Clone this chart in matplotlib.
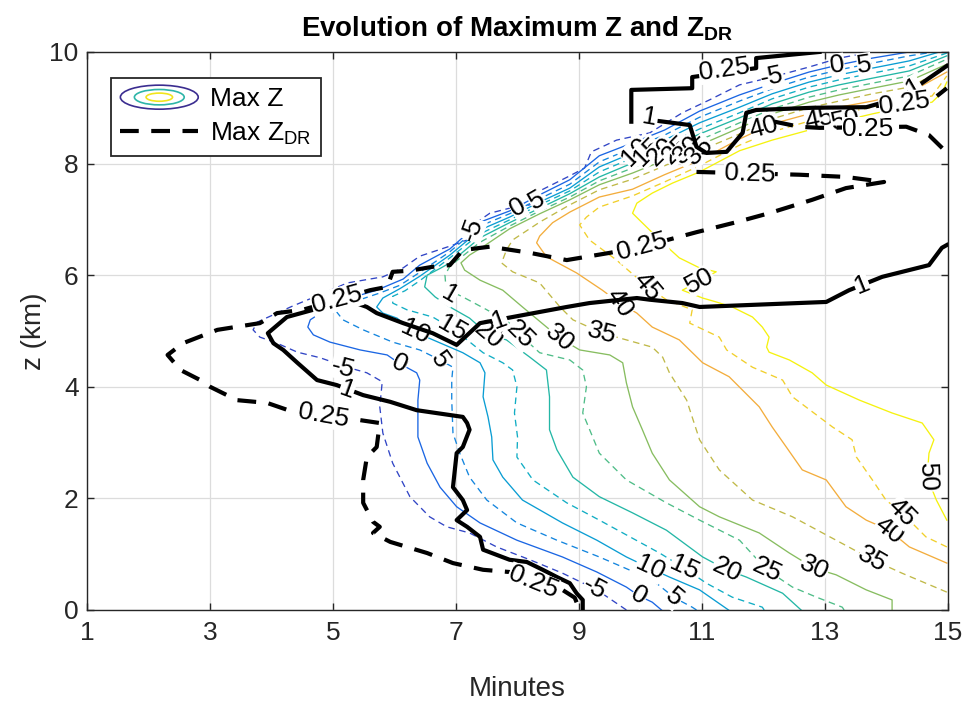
import numpy as np
import matplotlib
matplotlib.use('Agg')
import matplotlib.pyplot as plt
from matplotlib.legend_handler import HandlerBase
from matplotlib.patches import Ellipse, Patch
from matplotlib.lines import Line2D

plt.rcParams['font.family'] = 'Liberation Sans'
plt.rcParams['mathtext.fontset'] = 'custom'
plt.rcParams['mathtext.rm'] = 'Liberation Sans'
plt.rcParams['mathtext.bf'] = 'Liberation Sans:bold'

# ---- Max Z contours (minutes, km), one path per level ----
z_levels = [-5, 0, 5, 10, 15, 20, 25, 30, 35, 40, 45, 50]
z_colors = ['#3145c5', '#1b66e3', '#1385de', '#0a9dd3', '#11adc4', '#24b7a6',
            '#4fbd88', '#87bd60', '#c0b948', '#f3ad3d', '#f1cf2b', '#f5f20f']

z_m5 = [(9.77, 0.00), (9.29, 0.36), (8.73, 0.66), (8.20, 0.90), (7.66, 1.13), (7.22, 1.38),
        (6.85, 1.49), (6.57, 1.67), (6.25, 2.03), (5.97, 2.63), (5.81, 3.17), (5.76, 3.64),
        (5.80, 4.09), (5.55, 4.25), (5.23, 4.35), (4.79, 4.52), (4.42, 4.62), (4.09, 4.78),
        (3.81, 4.89), (3.70, 5.02), (3.77, 5.16), (4.35, 5.45), (4.79, 5.65), (5.23, 5.86),
        (5.81, 5.97), (6.14, 6.13), (6.41, 6.34), (6.90, 6.52), (7.18, 6.63), (7.34, 6.95),
        (7.55, 7.11), (7.87, 7.20), (8.20, 7.26), (8.36, 7.51), (8.85, 7.78), (9.09, 7.92),
        (9.20, 8.21), (9.61, 8.42), (10.15, 8.55), (10.68, 8.91), (11.12, 9.14), (11.61, 9.41),
        (12.14, 9.55), (12.74, 9.73), (13.23, 9.89), (13.77, 10.00)]
z_0 = [(10.34, 0.00), (10.19, 0.14), (9.98, 0.25), (9.77, 0.41), (9.29, 0.68), (8.73, 0.95),
       (7.99, 1.25), (7.39, 1.56), (7.01, 1.85), (6.74, 2.20), (6.53, 2.63), (6.38, 3.10),
       (6.38, 3.76), (6.41, 4.12), (6.36, 4.25), (6.09, 4.41), (5.88, 4.57), (5.44, 4.66),
       (4.95, 4.80), (4.68, 4.93), (4.59, 5.07), (4.63, 5.20), (4.95, 5.43), (5.28, 5.59),
       (5.71, 5.73), (6.14, 5.93), (6.41, 6.18), (6.90, 6.47), (7.39, 6.95), (7.87, 7.15),
       (8.36, 7.44), (8.85, 7.71), (9.33, 8.14), (9.87, 8.37), (10.39, 8.60), (10.96, 8.94),
       (11.61, 9.23), (12.14, 9.43), (12.74, 9.64), (13.23, 9.77), (13.77, 9.89), (14.37, 10.00)]
z_5 = [(10.91, 0.00), (10.84, 0.05), (10.55, 0.22), (10.19, 0.54), (9.33, 0.95), (8.64, 1.25),
       (7.99, 1.56), (7.50, 1.97), (7.22, 2.38), (7.06, 2.81), (6.95, 3.17), (6.93, 3.76),
       (6.93, 4.12), (6.95, 4.35), (6.74, 4.48), (6.41, 4.66), (5.97, 4.80), (5.49, 5.02),
       (5.16, 5.20), (5.06, 5.34), (5.23, 5.47), (5.49, 5.58), (5.76, 5.68), (6.09, 5.82),
       (6.41, 6.05), (6.90, 6.42), (7.39, 6.88), (7.87, 7.10), (8.36, 7.37), (8.85, 7.63),
       (9.33, 8.03), (9.87, 8.28), (10.39, 8.51), (10.96, 8.83), (11.61, 9.12), (12.14, 9.34),
       (12.74, 9.55), (13.23, 9.68), (13.77, 9.80), (14.37, 9.93), (14.77, 10.00)]
z_10 = [(11.43, 0.00), (10.96, 0.36), (10.47, 0.59), (10.15, 0.75), (9.77, 0.95), (9.29, 1.25),
        (8.73, 1.56), (8.08, 1.97), (7.76, 2.38), (7.60, 2.69), (7.58, 3.10), (7.52, 3.46),
        (7.44, 3.82), (7.47, 4.25), (7.39, 4.43), (7.11, 4.61), (6.33, 4.98), (6.04, 5.23),
        (5.81, 5.32), (5.71, 5.43), (5.81, 5.59), (6.09, 5.76), (6.41, 5.98), (6.90, 6.36),
        (7.39, 6.81), (7.87, 7.04), (8.36, 7.31), (8.85, 7.56), (9.33, 7.94), (9.87, 8.19),
        (10.39, 8.42), (10.96, 8.73), (11.61, 9.01), (12.14, 9.25), (12.74, 9.46), (13.23, 9.59),
        (13.77, 9.71), (14.37, 9.84), (14.86, 10.00)]
z_15 = [(12.01, 0.00), (11.98, 0.05), (11.49, 0.23), (11.07, 0.48), (10.71, 0.75), (10.31, 1.02),
        (9.33, 1.61), (8.80, 1.92), (8.25, 2.33), (7.99, 2.74), (8.00, 3.10), (7.95, 3.53),
        (7.99, 4.00), (7.92, 4.30), (7.76, 4.43), (7.44, 4.61), (7.18, 4.84), (6.93, 5.05),
        (6.62, 5.25), (6.20, 5.38), (5.97, 5.50), (5.97, 5.62), (6.17, 5.72), (6.41, 5.90),
        (6.90, 6.31), (7.39, 6.74), (7.87, 6.99), (8.36, 7.26), (8.85, 7.51), (9.33, 7.85),
        (9.87, 8.10), (10.39, 8.33), (10.96, 8.62), (11.61, 8.91), (12.14, 9.16), (12.74, 9.37),
        (13.23, 9.50), (13.77, 9.62), (14.37, 9.75), (14.98, 9.98)]
z_20 = [(12.61, 0.00), (12.31, 0.30), (11.72, 0.59), (11.40, 0.72), (11.01, 0.95), (10.42, 1.43),
        (9.87, 1.74), (9.33, 2.03), (8.90, 2.38), (8.64, 2.87), (8.52, 3.23), (8.52, 3.82),
        (8.47, 4.30), (8.20, 4.53), (7.82, 4.84), (7.53, 4.93), (7.22, 5.23), (6.90, 5.43),
        (6.66, 5.61), (6.49, 5.79), (6.53, 6.00), (6.74, 6.12), (6.90, 6.22), (7.39, 6.67),
        (7.87, 6.94), (8.36, 7.20), (8.85, 7.46), (9.33, 7.76), (9.87, 8.01), (10.39, 8.24),
        (10.96, 8.53), (11.61, 8.82), (12.14, 9.07), (12.74, 9.28), (13.23, 9.41), (13.77, 9.53),
        (14.37, 9.66), (14.98, 9.93)]
z_25 = [(13.31, 0.00), (13.28, 0.05), (12.86, 0.23), (12.47, 0.41), (12.05, 0.72), (11.61, 1.25),
        (10.96, 1.61), (10.42, 1.92), (9.77, 2.33), (9.33, 2.81), (9.06, 3.53), (9.12, 4.00),
        (9.06, 4.30), (8.85, 4.48), (8.36, 4.61), (8.04, 4.93), (7.87, 5.14), (7.50, 5.38),
        (7.11, 5.61), (6.90, 5.72), (6.83, 5.86), (6.82, 6.00), (6.90, 6.16), (7.39, 6.59),
        (7.87, 6.88), (8.36, 7.15), (8.85, 7.40), (9.33, 7.69), (9.87, 7.92), (10.39, 8.15),
        (10.96, 8.42), (11.61, 8.73), (12.14, 8.98), (12.74, 9.19), (13.23, 9.32), (13.77, 9.44),
        (14.37, 9.57), (14.98, 9.87)]
z_30 = [(14.09, 0.00), (14.09, 0.18), (13.67, 0.36), (13.18, 0.63), (12.82, 0.75), (12.42, 1.02),
        (11.93, 1.38), (11.28, 1.67), (10.96, 1.85), (10.47, 2.33), (10.19, 2.81), (10.03, 3.23),
        (9.87, 3.64), (9.77, 4.07), (9.71, 4.43), (9.50, 4.57), (9.01, 4.66), (8.69, 4.87),
        (8.08, 5.43), (7.76, 5.73), (7.39, 5.91), (7.14, 6.09), (7.08, 6.22), (7.22, 6.36),
        (7.44, 6.51), (7.87, 6.83), (8.36, 7.10), (8.85, 7.35), (9.33, 7.62), (9.87, 7.83),
        (10.39, 8.06), (10.96, 8.33), (11.61, 8.64), (12.14, 8.89), (12.74, 9.10), (13.23, 9.23),
        (13.77, 9.35), (14.37, 9.48), (14.98, 9.78)]
z_35 = [(14.98, 0.32), (14.25, 0.66), (13.77, 0.90), (13.18, 1.25), (12.47, 1.67), (11.82, 1.97),
        (11.28, 2.51), (10.96, 3.05), (10.75, 3.76), (10.47, 4.25), (10.36, 4.53), (10.19, 4.71),
        (9.77, 4.84), (9.38, 4.96), (8.90, 5.20), (8.69, 5.43), (8.36, 5.86), (7.92, 6.06),
        (7.74, 6.22), (7.82, 6.45), (7.92, 6.63), (8.36, 6.95), (8.85, 7.26), (9.33, 7.53),
        (9.87, 7.72), (10.39, 7.96), (10.96, 8.23), (11.61, 8.53), (12.14, 8.80), (12.74, 9.00),
        (13.23, 9.12), (13.77, 9.25), (14.37, 9.37), (14.98, 9.71)]
z_40 = [(14.98, 0.84), (14.37, 1.13), (14.04, 1.43), (13.67, 1.61), (13.34, 1.85), (13.02, 2.33),
        (12.63, 2.51), (12.37, 2.92), (12.14, 3.28), (11.93, 3.64), (11.44, 4.18), (11.01, 4.43),
        (10.63, 4.84), (10.19, 5.07), (9.94, 5.32), (9.66, 5.50), (9.38, 5.73), (8.96, 6.04),
        (8.47, 6.33), (8.31, 6.58), (8.36, 6.70), (8.57, 6.94), (8.85, 7.13), (9.33, 7.40),
        (9.87, 7.54), (10.39, 7.80), (10.96, 8.06), (11.61, 8.44), (12.14, 8.71), (12.74, 8.89),
        (13.23, 9.01), (13.77, 9.12), (14.37, 9.27), (14.98, 9.64)]
z_45 = [(14.98, 1.13), (14.64, 1.31), (14.25, 1.74), (13.99, 1.97), (13.77, 2.33), (13.51, 2.74),
        (13.44, 3.05), (13.12, 3.28), (12.47, 3.82), (12.31, 4.12), (11.82, 4.35), (11.40, 4.66),
        (11.28, 4.89), (10.80, 5.14), (10.84, 5.38), (10.42, 5.56), (10.11, 5.79), (9.61, 6.27),
        (9.17, 6.63), (9.01, 6.90), (9.12, 7.04), (9.33, 7.22), (9.87, 7.42), (10.39, 7.67),
        (10.96, 7.96), (11.61, 8.33), (12.14, 8.57), (12.74, 8.76), (13.23, 8.89), (13.77, 9.01),
        (14.37, 9.16), (14.74, 9.21), (14.98, 9.57)]
z_50 = [(14.98, 1.61), (14.81, 1.97), (14.66, 2.38), (14.69, 2.81), (14.77, 3.05), (14.58, 3.35),
        (14.09, 3.53), (13.56, 3.76), (13.02, 4.03), (12.79, 4.25), (12.42, 4.48), (12.09, 4.62),
        (12.05, 4.71), (12.09, 4.89), (11.98, 5.07), (11.82, 5.25), (11.49, 5.43), (11.23, 5.52),
        (11.01, 5.59), (10.68, 5.73), (11.23, 6.06), (10.96, 6.13), (10.63, 6.31), (10.36, 6.58),
        (9.98, 6.99), (9.87, 7.11), (9.94, 7.29), (10.19, 7.47), (10.52, 7.65), (10.96, 7.85),
        (11.61, 8.23), (12.14, 8.42), (12.74, 8.60), (13.23, 8.75), (13.77, 8.89), (14.37, 9.03),
        (14.74, 9.10), (14.90, 9.27), (14.98, 9.46)]
z_paths = [z_m5, z_0, z_5, z_10, z_15, z_20, z_25, z_30, z_35, z_40, z_45, z_50]

# contour labels: (minutes, km, text, rotation)
z_labels = [
    (9.25, 0.38, '-5', -28), (9.98, 0.25, '0', -30), (10.55, 0.22, '5', -40),
    (10.15, 0.75, '10', -25), (10.71, 0.75, '15', -25), (11.40, 0.72, '20', -25),
    (12.05, 0.72, '25', -25), (12.82, 0.75, '30', -25), (13.77, 0.90, '35', -30),
    (14.04, 1.43, '40', -38), (14.25, 1.74, '45', -45), (14.66, 2.38, '50', -88),
    (5.16, 4.34, '-5', -15), (6.09, 4.41, '0', -25), (6.74, 4.48, '5', -55),
    (6.33, 4.98, '10', -25), (6.93, 5.05, '15', -30), (7.53, 4.93, '20', -40),
    (8.04, 4.93, '25', -45), (8.69, 4.87, '30', -40), (9.38, 4.96, '35', -15),
    (9.66, 5.50, '40', -55), (10.11, 5.79, '45', -50), (10.96, 5.90, '50', 28),
    (7.27, 6.82, '-5', 70), (8.00, 7.22, '0', 30), (8.31, 7.34, '5', 30),
    (9.92, 8.21, '10', 45), (10.11, 8.21, '15', 45), (10.34, 8.22, '20', 45),
    (10.57, 8.24, '25', 45), (10.76, 8.24, '30', 45), (10.96, 8.23, '35', 45),
    (12.01, 8.65, '40', 15), (12.91, 8.80, '45', 12), (13.33, 8.78, '50', 12),
    (12.14, 9.55, '-5', 12), (13.20, 9.76, '0', 8), (13.64, 9.77, '5', 8),
]

# ---- Max ZDR contours ----
zdr1_main = [(14.98, 6.54), (14.90, 6.49), (14.69, 6.18), (13.93, 5.97), (13.39, 5.73),
             (13.02, 5.52), (10.96, 5.43), (10.68, 5.50), (10.15, 5.56), (9.94, 5.59),
             (9.17, 5.50), (8.80, 5.43), (7.92, 5.25), (7.39, 5.14), (7.01, 4.75), (6.62, 4.96),
             (6.14, 5.14), (5.71, 5.32), (5.55, 5.43), (5.32, 5.52), (5.00, 5.47), (4.68, 5.38),
             (4.25, 5.25), (3.94, 4.96), (4.03, 4.78), (4.19, 4.66), (4.42, 4.43), (4.74, 4.12),
             (5.06, 4.03), (5.49, 3.85), (5.93, 3.73), (6.36, 3.58), (7.11, 3.46), (7.18, 3.35),
             (7.22, 3.23), (7.11, 2.92), (7.01, 2.81), (6.95, 2.20), (7.11, 1.97), (7.18, 1.79),
             (7.01, 1.61), (7.18, 1.49), (7.39, 1.31), (7.44, 1.08), (7.87, 0.90), (8.15, 0.86),
             (8.41, 0.72), (8.64, 0.59), (8.85, 0.48), (8.96, 0.30), (9.06, 0.18), (9.06, 0.00)]
zdr1_top = [(10.31, 8.76), (10.80, 8.69), (10.91, 8.30), (11.07, 8.19), (11.40, 8.21),
            (11.66, 8.55), (11.72, 8.91), (11.88, 8.96), (12.81, 9.00), (13.67, 9.01),
            (14.25, 9.19), (14.69, 9.53), (14.98, 9.75)]
zdr025_top = [(9.85, 8.75), (9.85, 9.32), (10.84, 9.35), (10.84, 9.55), (11.88, 9.71),
              (11.88, 9.89), (12.91, 10.00)]
zdr025_loop = [(10.91, 7.85), (12.58, 7.80), (13.34, 7.76), (13.96, 7.67), (13.34, 7.56),
               (12.79, 7.35), (12.09, 7.11), (11.56, 6.95), (10.91, 6.77), (10.03, 6.51),
               (9.50, 6.40), (8.80, 6.27), (8.20, 6.40), (7.55, 6.51), (7.11, 6.45), (6.90, 6.18),
               (6.62, 6.15), (6.25, 6.08), (5.97, 6.06), (5.88, 5.79), (5.60, 5.73), (4.51, 5.38),
               (4.09, 5.32), (3.81, 5.14), (3.12, 5.02), (2.56, 4.78), (2.31, 4.57), (2.52, 4.30),
               (2.84, 4.12), (3.00, 4.00), (3.44, 3.76), (3.93, 3.71), (4.35, 3.55), (5.39, 3.41),
               (5.76, 3.35), (5.71, 2.92), (5.55, 2.74), (5.49, 2.33), (5.49, 1.92), (5.65, 1.58),
               (5.76, 1.49), (5.65, 1.38), (5.93, 1.22), (6.53, 1.02), (6.95, 0.84), (7.44, 0.72),
               (7.87, 0.68), (8.20, 0.45), (8.73, 0.36), (8.93, 0.22), (9.01, 0.00)]
zdr025_mid = [(12.18, 8.75), (12.58, 8.66), (12.91, 8.64), (14.32, 8.66), (14.69, 8.51),
              (14.94, 8.24), (14.98, 8.10)]
zdr025_edge = [(13.83, 9.03), (14.74, 9.14), (14.98, 9.35)]

zdr_solid = [zdr1_main, zdr1_top, zdr025_top]
zdr_dashed = [zdr025_loop, zdr025_mid, zdr025_edge]

zdr_labels = [
    (13.60, 5.82, '1', 22), (7.71, 5.20, '1', 20), (5.23, 3.95, '1', -20),
    (6.90, 5.66, '1', -30), (10.15, 8.82, '1', -10), (14.45, 9.37, '1', 30),
    (11.36, 9.68, '0.25', 8), (11.77, 7.82, '0.25', -2), (10.03, 6.51, '0.25', 15),
    (5.06, 5.56, '0.25', 15), (4.84, 3.48, '0.25', -10), (8.25, 0.50, '0.25', -22),
    (13.69, 8.62, '0.25', 0), (14.29, 9.08, '0.25', 8),
]


class ContourIcon(HandlerBase):
    # three nested rings, like a contour swatch
    def create_artists(self, legend, orig_handle, xdescent, ydescent,
                       width, height, fontsize, trans):
        cx = width / 2 - xdescent
        cy = height / 2 - ydescent
        rings = []
        for s, c in zip([1.0, 0.64, 0.34], ['#3b2d90', '#2eb5a8', '#f1e51d']):
            rings.append(Ellipse((cx, cy), width * s, height * 1.3 * s, fill=False,
                                 edgecolor=c, lw=1.2, transform=trans))
        return rings


fig = plt.figure(figsize=(9.67, 7.02), dpi=100)
ax = fig.add_axes([0.0900, 0.1311, 0.8904, 0.7949])

for lev, pts, col in zip(z_levels, z_paths, z_colors):
    pts = np.array(pts)
    ls = '-' if lev % 10 == 0 else (0, (5, 3.5))
    ax.plot(pts[:, 0], pts[:, 1], color=col, lw=0.95, linestyle=ls, zorder=2)

for t, h, txt, rot in z_labels:
    ax.text(t, h, txt, fontsize=19, rotation=rot, ha='center', va='center',
            rotation_mode='anchor', zorder=3,
            bbox=dict(boxstyle='square,pad=0.0', fc='white', ec='none'))

for pts in zdr_solid:
    pts = np.array(pts)
    ax.plot(pts[:, 0], pts[:, 1], color='black', lw=3, zorder=4)
for pts in zdr_dashed:
    pts = np.array(pts)
    ax.plot(pts[:, 0], pts[:, 1], color='black', lw=3, linestyle=(0, (4.5, 3)), zorder=4)

for t, h, txt, rot in zdr_labels:
    ax.text(t, h, txt, fontsize=19, rotation=rot, ha='center', va='center',
            rotation_mode='anchor', zorder=5,
            bbox=dict(boxstyle='square,pad=0.0', fc='white', ec='none'))

ax.set_xlim(1, 15)
ax.set_ylim(0, 10)
ax.set_xticks(np.arange(1, 16, 2))
ax.set_yticks(np.arange(0, 11, 2))
ax.grid(True, color='#dcdcdc', lw=0.9)
ax.set_axisbelow(True)
ax.tick_params(direction='in', top=True, right=True, length=5, width=1, pad=8,
               labelsize=19, color='#262626', labelcolor='#262626')
ax.tick_params(axis='y', pad=6)
for sp in ax.spines.values():
    sp.set_color('#262626')
    sp.set_linewidth(1.0)

ax.set_xlabel('Minutes', fontsize=20, color='#262626', labelpad=22)
ax.set_ylabel('z (km)', fontsize=20, color='#262626', labelpad=2)
ax.set_title(r'Evolution of Maximum Z and Z$_{\mathbf{DR}}$', fontsize=20,
             fontweight='bold', pad=11)

z_handle = Patch()
zdr_handle = Line2D([], [], color='black', lw=3, linestyle=(0, (4.5, 3)))
leg = ax.legend([z_handle, zdr_handle], ['Max Z', r'Max Z$_{\mathrm{DR}}$'],
                handler_map={z_handle: ContourIcon()}, loc='upper left',
                bbox_to_anchor=(0.028, 0.953), borderaxespad=0, fontsize=19,
                handlelength=2.95, handletextpad=0.45, labelspacing=0.35,
                borderpad=0.35, fancybox=False, framealpha=1, edgecolor='#262626')
leg.get_frame().set_linewidth(1.3)

fig.savefig('out.png', dpi=100)
